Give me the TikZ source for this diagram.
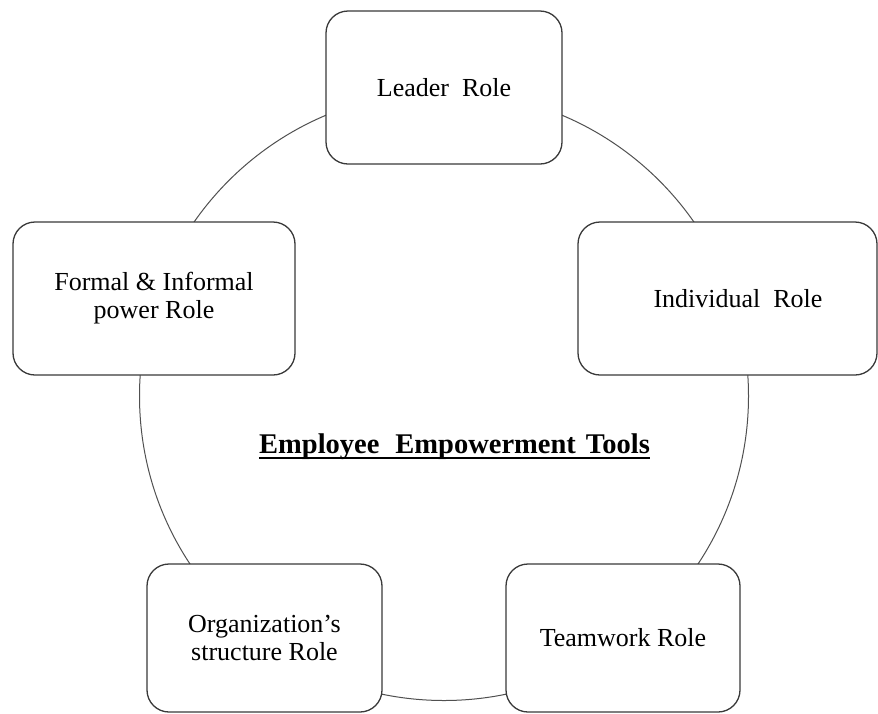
\documentclass[tikz,border=0pt]{standalone}
\usepackage{fontspec}
\setmainfont{Liberation Serif}
\definecolor{boxgray}{HTML}{3A3A3A}
\definecolor{ringgray}{HTML}{505050}
\tikzset{
  rolebox/.style={draw=boxgray, line width=1.3pt, rounded corners=22pt, fill=white,
    inner sep=0pt, align=center, font=\fontsize{26}{28}\selectfont},
  ring/.style={draw=ringgray, line width=1pt},
  titletext/.style={inner sep=0pt, anchor=base, font=\fontsize{28.5}{32}\selectfont\bfseries}
}
\begin{document}
\begin{tikzpicture}[x=1pt,y=-1pt]
\useasboundingbox (0,0) rectangle (878,713);
\clip (0,0) rectangle (878,713);
\fill[white] (0,0) rectangle (878,713);
\coordinate (c) at (444,396);
\draw[ring] (c) circle[radius=304.5pt];
\node[rolebox, minimum width=236pt, minimum height=153pt] (leader) at (444,87.5) {Leader\ \ Role};
\node[rolebox, minimum width=282pt, minimum height=153pt] (formal) at (154,298.5) {Formal \& Informal\\power Role};
\node[rolebox, minimum width=299pt, minimum height=153pt] (indiv) at (727.5,298.5) {\hspace*{21pt}Individual\ \ Role};
\node[rolebox, minimum width=235pt, minimum height=148pt] (org) at (264.5,638) {Organization’s\\structure Role};
\node[rolebox, minimum width=234pt, minimum height=148pt] (team) at (623,638) {Teamwork Role};
\node[titletext] (title) at (454.5,453) {Employee\hspace{16pt}Empowerment\hspace{10pt}Tools};
\draw[line width=1.8pt] ([yshift=-5pt]title.base west) -- ([yshift=-5pt]title.base east);
\end{tikzpicture}
\end{document}
